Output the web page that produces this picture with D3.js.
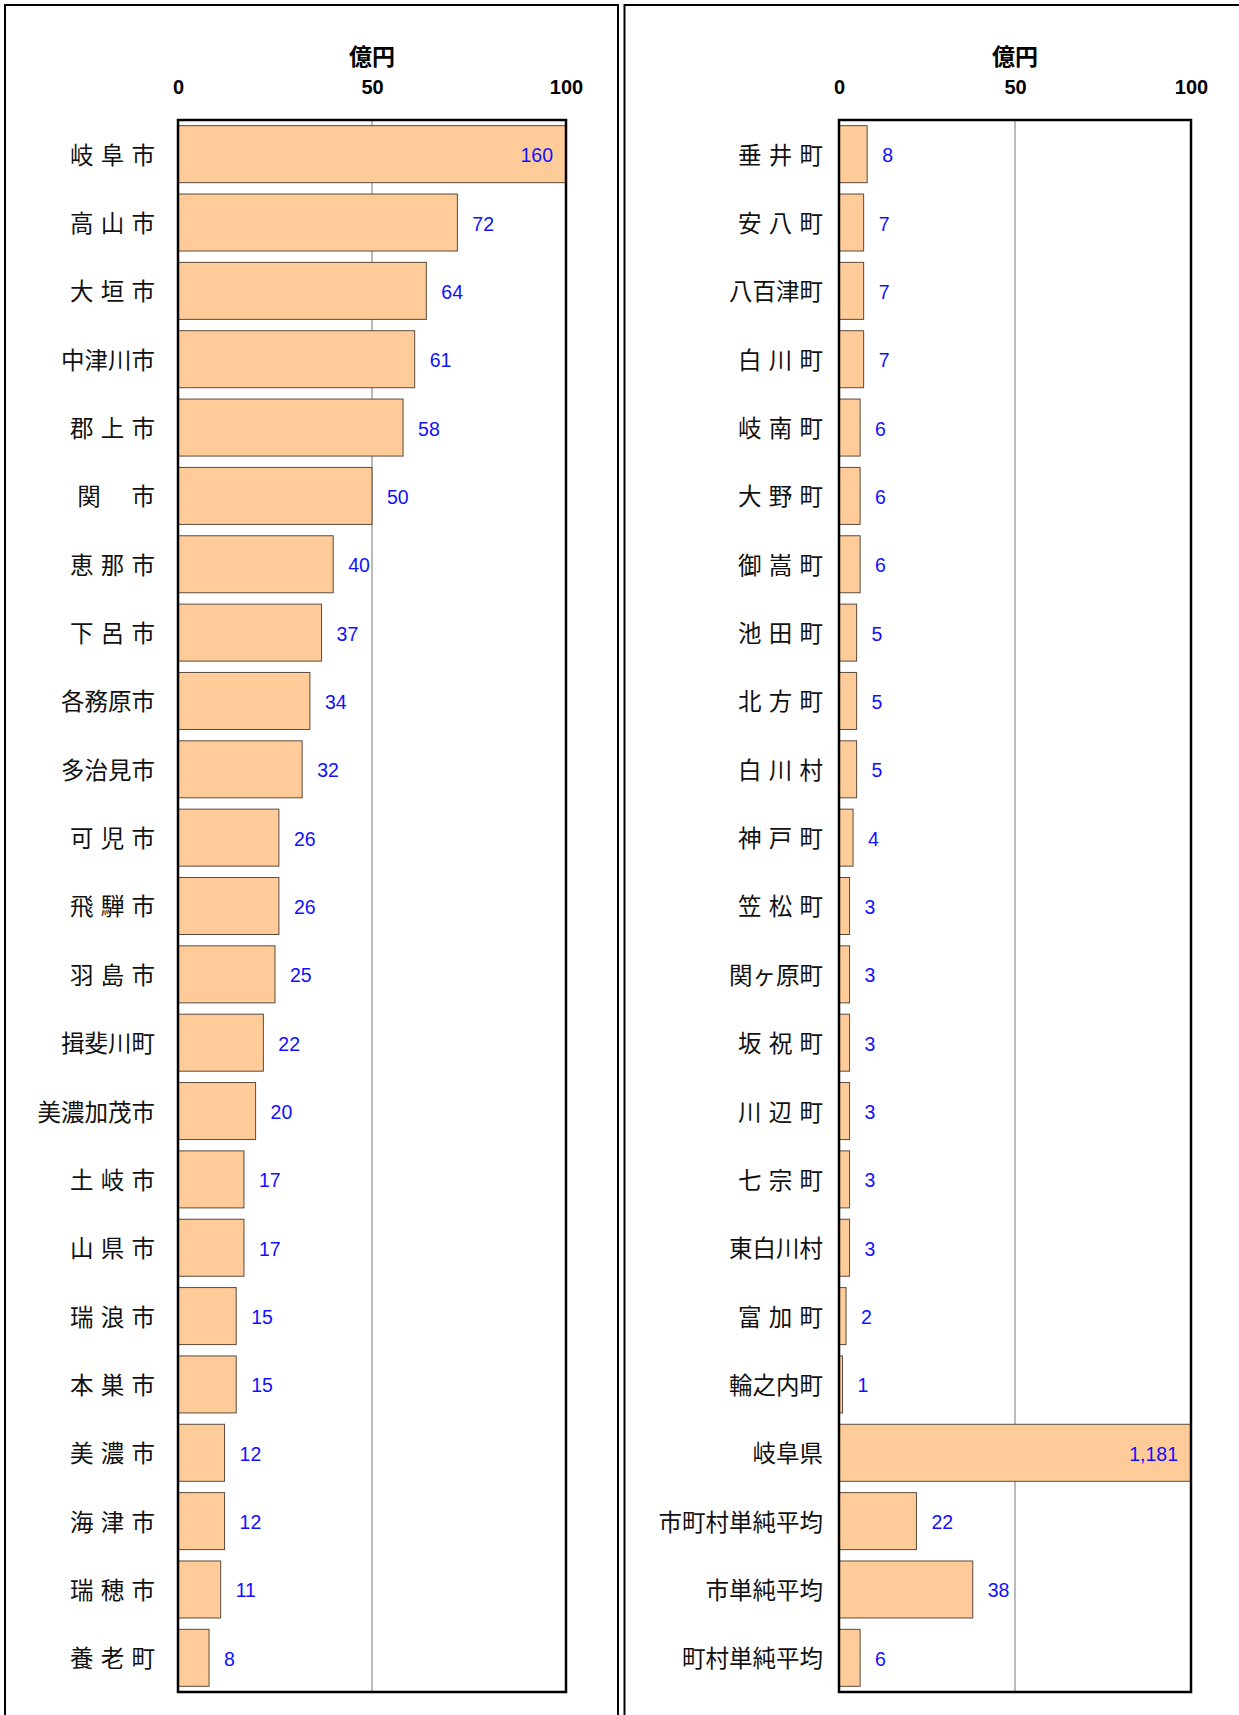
<!DOCTYPE html>
<html>
<head>
<meta charset="utf-8">
<script src="https://cdn.jsdelivr.net/npm/d3@7"></script>
<style>
  body { margin: 0; background: #fff; }
  svg { display: block; }
</style>
</head>
<body>
<div id="chart"></div>
<script>
// left panel: cities (億円)
var leftNames = ["岐 阜 市","高 山 市","大 垣 市","中津川市","郡 上 市","関　 市","恵 那 市","下 呂 市","各務原市","多治見市","可 児 市","飛 騨 市","羽 島 市","揖斐川町","美濃加茂市","土 岐 市","山 県 市","瑞 浪 市","本 巣 市","美 濃 市","海 津 市","瑞 穂 市","養 老 町"]
var leftValues = [160,72,64,61,58,50,40,37,34,32,26,26,25,22,20,17,17,15,15,12,12,11,8]

// right panel: towns, villages, prefecture, averages
var rightNames = ["垂 井 町","安 八 町","八百津町","白 川 町","岐 南 町","大 野 町","御 嵩 町","池 田 町","北 方 町","白 川 村","神 戸 町","笠 松 町","関ヶ原町","坂 祝 町","川 辺 町","七 宗 町","東白川村","富 加 町","輪之内町","岐阜県","市町村単純平均","市単純平均","町村単純平均"]
var rightValues = [8,7,7,7,6,6,6,5,5,5,4,3,3,3,3,3,3,2,1,1181,22,38,6]

var tickValues = [0, 50, 100]
var axisTitle = "億円"

var W = 1239, H = 1715
var svg = d3.select("#chart").append("svg")
    .attr("width", W)
    .attr("height", H)

svg.append("rect").attr("width", W).attr("height", H).attr("fill", "#fff")

// outer panel frames
svg.append("rect")
    .attr("x", 5).attr("y", 5)
    .attr("width", 613).attr("height", 1740)
    .attr("fill", "none").attr("stroke", "#000").attr("stroke-width", 2)
svg.append("rect")
    .attr("x", 624.5).attr("y", 5)
    .attr("width", 700).attr("height", 1740)
    .attr("fill", "none").attr("stroke", "#000").attr("stroke-width", 2)

function drawPanel(names, values, left, right, labelGap) {
  var top = 120, bottom = 1692

  var x = d3.scaleLinear()
      .domain([0, 100])
      .range([left, right])
      .clamp(true)

  var y = d3.scaleBand()
      .domain(names)
      .range([top, bottom])
      .paddingInner(0.166)
      .paddingOuter(0.083)

  var g = svg.append("g")

  // grid line at 50
  g.append("line")
      .attr("x1", x(50)).attr("x2", x(50))
      .attr("y1", top).attr("y2", bottom)
      .attr("stroke", "#777").attr("stroke-width", 1)

  // bars
  g.selectAll("rect.bar")
      .data(values)
      .enter()
      .append("rect")
      .attr("class", "bar")
      .attr("x", x(0))
      .attr("y", (d, i) => y(names[i]))
      .attr("width", d => x(d) - x(0))
      .attr("height", y.bandwidth())
      .attr("fill", "#FFCC99")
      .attr("stroke", "#5a4a3c")
      .attr("stroke-width", 1)

  // plot frame
  g.append("rect")
      .attr("x", left).attr("y", top)
      .attr("width", right - left).attr("height", bottom - top)
      .attr("fill", "none")
      .attr("stroke", "#000")
      .attr("stroke-width", 2.5)

  // value labels
  g.selectAll("text.val")
      .data(values)
      .enter()
      .append("text")
      .attr("class", "val")
      .attr("x", d => d > 100 ? x(100) - 13 : x(d) + 15)
      .attr("y", (d, i) => y(names[i]) + y.bandwidth() / 2 + 1)
      .attr("dy", "0.36em")
      .attr("text-anchor", d => d > 100 ? "end" : "start")
      .attr("fill", "#1010ff")
      .style("font-family", "'Liberation Sans', Arial, sans-serif")
      .style("font-size", "19.5px")
      .text(d => d3.format(",")(d))

  // category labels
  g.selectAll("text.cat")
      .data(names)
      .enter()
      .append("text")
      .attr("class", "cat")
      .attr("x", left - labelGap)
      .attr("y", d => y(d) + y.bandwidth() / 2 + 1)
      .attr("dy", "0.36em")
      .attr("text-anchor", "end")
      .attr("fill", "#111")
      .style("font-family", "'Noto Sans CJK JP', sans-serif")
      .style("font-size", "23.5px")
      .style("word-spacing", "2px")
      .style("white-space", "pre")
      .text(d => d)

  // top axis
  var axis = d3.axisTop(x).tickValues(tickValues).tickSize(0).tickPadding(26)
  var ax = svg.append("g")
      .attr("transform", `translate(0, ${top})`)
      .call(axis)
  ax.select(".domain").remove()
  ax.selectAll("text")
      .attr("fill", "#000")
      .style("font-family", "'Liberation Sans', Arial, sans-serif")
      .style("font-size", "20px")
      .style("font-weight", "bold")

  svg.append("text")
      .attr("x", x(50))
      .attr("y", 57)
      .attr("dy", "0.36em")
      .attr("text-anchor", "middle")
      .style("font-family", "'Noto Sans CJK JP', sans-serif")
      .style("font-size", "23px")
      .style("font-weight", "bold")
      .text(axisTitle)
}

drawPanel(leftNames, leftValues, 178, 566, 23)
drawPanel(rightNames, rightValues, 839, 1191, 16)
</script>
</body>
</html>
